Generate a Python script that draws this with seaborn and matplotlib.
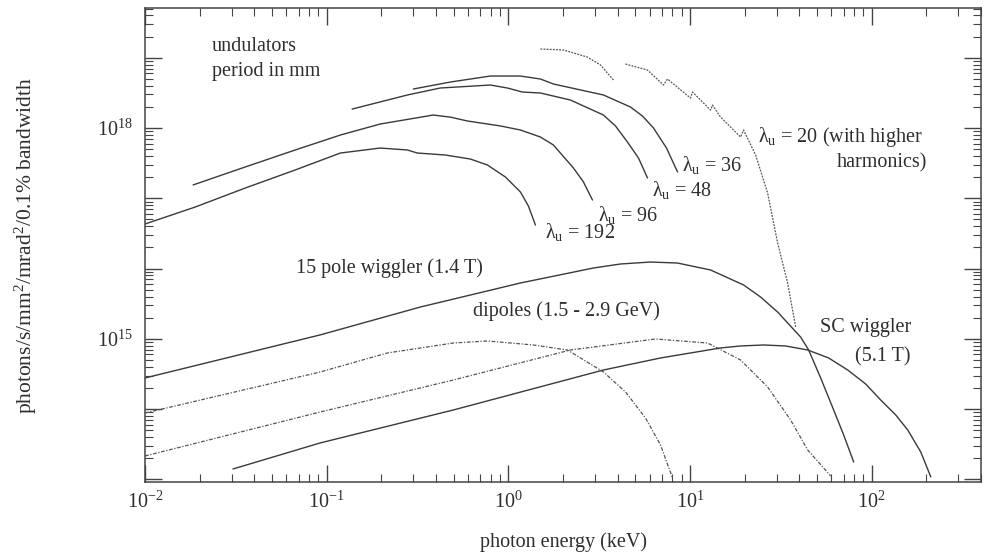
import numpy as np
import pandas as pd
import matplotlib
matplotlib.use("Agg")
import matplotlib.pyplot as plt
import matplotlib.ticker as mticker
import seaborn as sns

# ---------------- data (photon energy in keV, brightness) ----------------
u192_e = [0.0100, 0.0189, 0.0356, 0.0671, 0.119, 0.197, 0.278, 0.315, 0.450, 0.618, 0.766, 0.963, 1.165, 1.289, 1.409]
u192_b = [4.31e16, 7.52e16, 1.40e17, 2.53e17, 4.41e17, 5.19e17, 4.87e17, 4.41e17, 4.13e17, 3.62e17, 2.98e17, 2.01e17, 1.23e17, 7.77e16, 4.17e16]

u96_e = [0.0184, 0.0356, 0.0671, 0.119, 0.197, 0.386, 0.479, 0.594, 0.904, 1.165, 1.501, 1.770, 2.281, 2.589, 2.903]
u96_b = [1.55e17, 2.79e17, 4.87e17, 7.95e17, 1.14e18, 1.53e18, 1.43e18, 1.26e18, 1.07e18, 9.37e17, 7.45e17, 5.73e17, 2.70e17, 1.71e17, 9.46e16]

u48_e = [0.138, 0.278, 0.422, 0.796, 0.987, 1.194, 1.501, 2.196, 3.338, 3.886, 4.524, 5.203, 5.831]
u48_b = [1.86e18, 2.95e18, 3.71e18, 4.09e18, 3.71e18, 3.25e18, 3.15e18, 2.50e18, 1.53e18, 1.07e18, 6.32e17, 3.74e17, 1.95e17]

u36_e = [0.300, 0.479, 0.796, 1.165, 1.501, 1.770, 3.338, 4.701, 5.473, 6.294, 7.42, 8.533]
u36_b = [3.59e18, 4.51e18, 5.49e18, 5.49e18, 4.98e18, 4.23e18, 2.95e18, 1.99e18, 1.48e18, 1.00e18, 5.19e17, 2.37e17]

u20a_e = [1.501, 2.009, 2.725, 3.213, 3.789]
u20a_b = [1.33e19, 1.29e19, 1.02e19, 7.88e18, 4.82e18]
u20b_e = [4.411, 5.831, 7.145, 7.516, 10.06, 10.32, 12.97, 13.30, 14.72, 18.97, 19.71, 22.96, 26.73, 30.35, 34.45, 38.14]
u20b_b = [8.14e18, 6.68e18, 4.09e18, 4.98e18, 2.67e18, 3.25e18, 1.80e18, 2.12e18, 1.43e18, 7.45e17, 9.37e17, 4.13e17, 1.19e17, 2.31e16, 6.24e15, 1.48e15]

w15_e = [0.0100, 0.0921, 0.3275, 1.165, 2.940, 4.142, 6.058, 8.533, 12.97, 19.71, 24.45, 30.35, 40.63, 44.98, 52.36, 61.74, 70.09, 79.59]
w15_b = [2.78e14, 1.14e15, 2.84e15, 6.24e15, 1.02e16, 1.163e16, 1.24e16, 1.20e16, 9.55e15, 5.85e15, 3.94e15, 2.41e15, 1.06e15, 6.95e14, 2.78e14, 9.74e13, 4.30e13, 1.77e13]

dip1_e = [0.0100, 0.0921, 0.2154, 0.4977, 0.766, 1.373, 2.114, 3.338, 4.411, 5.685, 6.877, 8.011]
dip1_b = [8.83e13, 3.38e14, 6.30e14, 8.74e14, 9.34e14, 8.19e14, 6.95e14, 3.38e14, 1.76e14, 7.50e13, 3.10e13, 1.05e13]

dip2_e = [0.0100, 0.0921, 0.4977, 2.196, 6.455, 12.49, 18.97, 26.73, 35.78, 44.41, 59.44]
dip2_b = [2.16e13, 9.12e13, 2.60e14, 6.95e14, 9.97e14, 8.74e14, 5.01e14, 2.07e14, 7.02e13, 2.63e13, 1.12e13]

scw_e = [0.0305, 0.0921, 0.4977, 3.338, 6.877, 14.72, 18.97, 25.41, 33.59, 44.41, 57.96, 73.77, 92.67, 112.1, 135.6, 157.9, 186.2, 211.4]
scw_b = [1.41e13, 3.31e13, 9.74e13, 3.61e14, 5.35e14, 7.43e14, 7.93e14, 8.19e14, 7.93e14, 6.95e14, 5.35e14, 3.61e14, 2.28e14, 1.35e14, 8.27e13, 5.06e13, 2.46e13, 1.09e13]

x_tick_labels = {-2: "10$^{-2}$", -1: "10$^{-1}$", 0: "10$^{0}$", 1: "10$^{1}$", 2: "10$^{2}$"}
y_tick_labels = {15: "10$^{15}$", 18: "10$^{18}$"}

# ---------------- style ----------------
sns.set_theme(style="ticks")
plt.rcParams['font.family'] = ['Liberation Serif', 'DejaVu Serif']
plt.rcParams['mathtext.fontset'] = 'custom'
plt.rcParams['mathtext.rm'] = 'Liberation Serif'
plt.rcParams['mathtext.it'] = 'Liberation Serif:italic'
plt.rcParams['mathtext.bf'] = 'Liberation Serif:bold'

TXT = '#2e2e2e'
LINE = '#3a3a3a'

fig = plt.figure(figsize=(9.88, 5.55), dpi=100)
ax = fig.add_axes([0.1468, 0.1315, 0.8462, 0.8541])
ax.set_xscale('log')
ax.set_yscale('log')


def draw(e, b, ls='-', lw=1.0, color=LINE):
    df = pd.DataFrame({'energy': e, 'brightness': b})
    sns.lineplot(data=df, x='energy', y='brightness', ax=ax, estimator=None,
                 sort=False, color=color, linewidth=lw, linestyle=ls)


draw(u192_e, u192_b)
draw(u96_e, u96_b)
draw(u48_e, u48_b)
draw(u36_e, u36_b)
draw(u20a_e, u20a_b, ls=(0, (1.5, 1.0)), lw=0.9, color='#555555')
draw(u20b_e, u20b_b, ls=(0, (1.5, 1.0)), lw=0.9, color='#555555')
draw(w15_e, w15_b)
draw(dip1_e, dip1_b, ls=(0, (3, 1.3, 1, 1.3)), lw=0.9, color='#555555')
draw(dip2_e, dip2_b, ls=(0, (3, 1.3, 1, 1.3)), lw=0.9, color='#555555')
draw(scw_e, scw_b)

ax.set_xlim(0.01, 400)
ax.set_ylim(9.2e12, 5.1e19)

# ticks
ax.xaxis.set_major_locator(mticker.LogLocator(base=10, numticks=20))
ax.xaxis.set_minor_locator(mticker.LogLocator(base=10, subs=np.arange(2, 10), numticks=20))
ax.yaxis.set_major_locator(mticker.LogLocator(base=10, numticks=20))
ax.yaxis.set_minor_locator(mticker.LogLocator(base=10, subs=np.arange(2, 10), numticks=20))
ax.xaxis.set_major_formatter(mticker.FuncFormatter(
    lambda v, p: x_tick_labels.get(int(round(np.log10(v))), "")))
ax.yaxis.set_major_formatter(mticker.FuncFormatter(
    lambda v, p: y_tick_labels.get(int(round(np.log10(v))), "")))
ax.xaxis.set_minor_formatter(mticker.NullFormatter())
ax.yaxis.set_minor_formatter(mticker.NullFormatter())
ax.tick_params(which='both', direction='in', top=True, right=True, colors='#444444',
               labelcolor=TXT, labelsize=14.5)
ax.tick_params(which='major', length=12, width=1.0)
ax.tick_params(which='minor', length=6, width=0.8)
ax.tick_params(axis='x', which='major', pad=7)
ax.tick_params(axis='y', which='major', pad=9)
for s in ax.spines.values():
    s.set_color('#444444')
    s.set_linewidth(1.1)

ax.set_xlabel("photon energy (keV)", fontsize=14.5, color=TXT)
ax.set_ylabel("photons/s/mm$^2$/mrad$^2$/0.1% bandwidth", fontsize=15.5, color=TXT)
ax.xaxis.set_label_coords(0.5, -0.105)
ax.yaxis.set_label_coords(-0.127, 0.5)

# annotations (axes fraction)
fs = 14.5
def note(x, y, s):
    ax.text(x, y, s, transform=ax.transAxes, ha='left', va='center', fontsize=fs, color=TXT)

note(0.080, 0.918, "undulators")
note(0.080, 0.865, "period in mm")
note(0.181, 0.451, "15 pole wiggler (1.4 T)")
note(0.392, 0.361, "dipoles (1.5 - 2.9 GeV)")
note(0.807, 0.325, "SC wiggler")
note(0.849, 0.264, "(5.1 T)")
note(0.478, 0.527, "λ$_\\mathrm{u}$ = 192")
note(0.542, 0.563, "λ$_\\mathrm{u}$ = 96")
note(0.606, 0.616, "λ$_\\mathrm{u}$ = 48")
note(0.642, 0.669, "λ$_\\mathrm{u}$ = 36")
note(0.733, 0.728, "λ$_\\mathrm{u}$ = 20 (with higher")
note(0.827, 0.673, "harmonics)")

fig.savefig("out.png", dpi=100)
